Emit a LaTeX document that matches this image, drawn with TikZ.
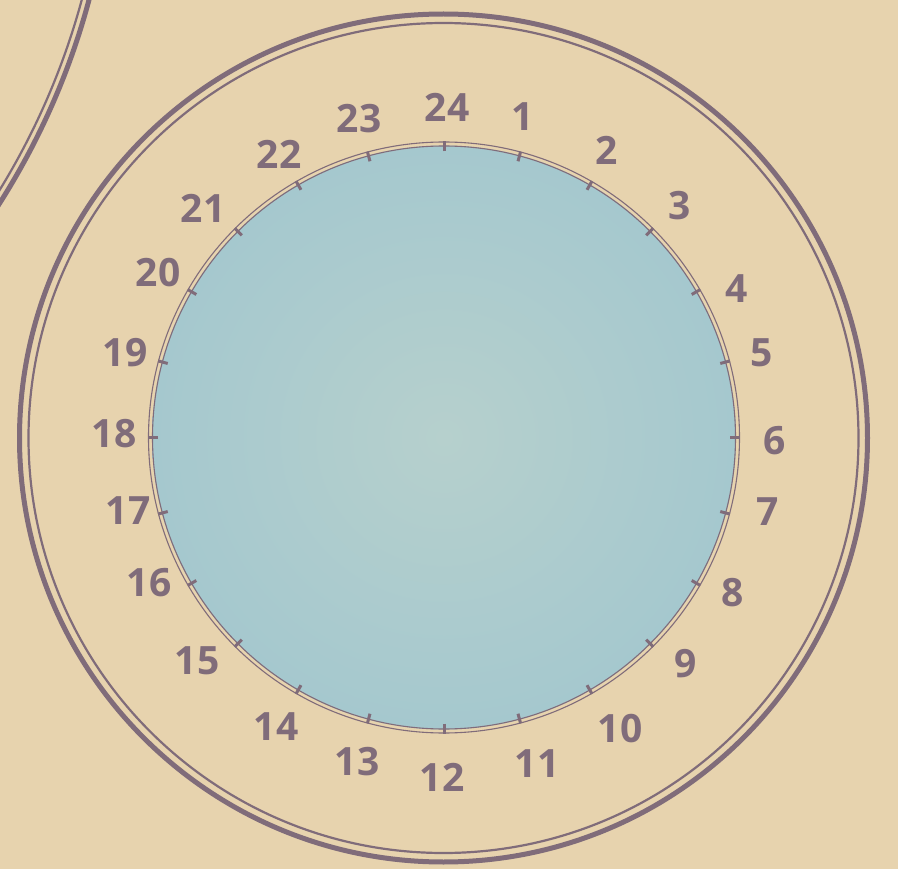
\documentclass[tikz,border=0pt]{standalone}
\usepackage{fontspec}
\setmainfont{Open Sans}
\usetikzlibrary{calc}
\definecolor{paper}{RGB}{231,211,174}
\definecolor{ink}{RGB}{128,108,122}
\definecolor{sea}{RGB}{165,200,206}
\definecolor{sealight}{RGB}{182,208,205}
\begin{document}
\begin{tikzpicture}[x=1pt,y=-1pt,
  hour/.style={text=ink,font=\fontsize{39}{42}\selectfont\bfseries,inner sep=0pt},
  thickring/.style={draw=ink,line width=5pt},
  thinring/.style={draw=ink,line width=2.2pt},
  fine/.style={draw=ink,line width=1.1pt},
  tickmark/.style={draw=ink,line width=3pt}]
\fill[paper] (0,0) rectangle (898,869);
\useasboundingbox (0,0) rectangle (898,869);
\clip (0,0) rectangle (898,869);
\coordinate (c) at (443.5,438);
\coordinate (d) at (444,437.5);
\coordinate (o) at (-622,-191);
% neighbouring dial, top left
\draw[thickring] (o) circle (736);
\draw[thinring] (o) circle (729);
% outer double ring
\draw[thickring] (c) circle (424);
\draw[thinring] (c) circle (415);
% blue disc
\shade[inner color=sealight,outer color=sea] (d) circle (292);
\draw[fine] (d) circle (295.5);
\draw[fine] (d) circle (291.5);
\foreach \k in {0,...,23}
  \draw[tickmark] ($(d)+(15*\k-90:286)$) -- ($(d)+(15*\k-90:296)$);
% hour numbers
\node[hour] (h24) at (447,107) {24};
\node[hour] (h1) at (523,117) {1};
\node[hour] (h2) at (607,150) {2};
\node[hour] (h3) at (680,206) {3};
\node[hour] (h4) at (737,289) {4};
\node[hour] (h5) at (762,353) {5};
\node[hour] (h6) at (775,441) {6};
\node[hour] (h7) at (768,512) {7};
\node[hour] (h8) at (733,593) {8};
\node[hour] (h9) at (686,664) {9};
\node[hour] (h10) at (620,729) {10};
\node[hour] (h11) at (537,764) {11};
\node[hour] (h12) at (442,777) {12};
\node[hour] (h13) at (357,762) {13};
\node[hour] (h14) at (276,727) {14};
\node[hour] (h15) at (197,661) {15};
\node[hour] (h16) at (149,583) {16};
\node[hour] (h17) at (128,511) {17};
\node[hour] (h18) at (114,434) {18};
\node[hour] (h19) at (125,353) {19};
\node[hour] (h20) at (158,273) {20};
\node[hour] (h21) at (203,208) {21};
\node[hour] (h22) at (279,154) {22};
\node[hour] (h23) at (359,119) {23};
\end{tikzpicture}
\end{document}
